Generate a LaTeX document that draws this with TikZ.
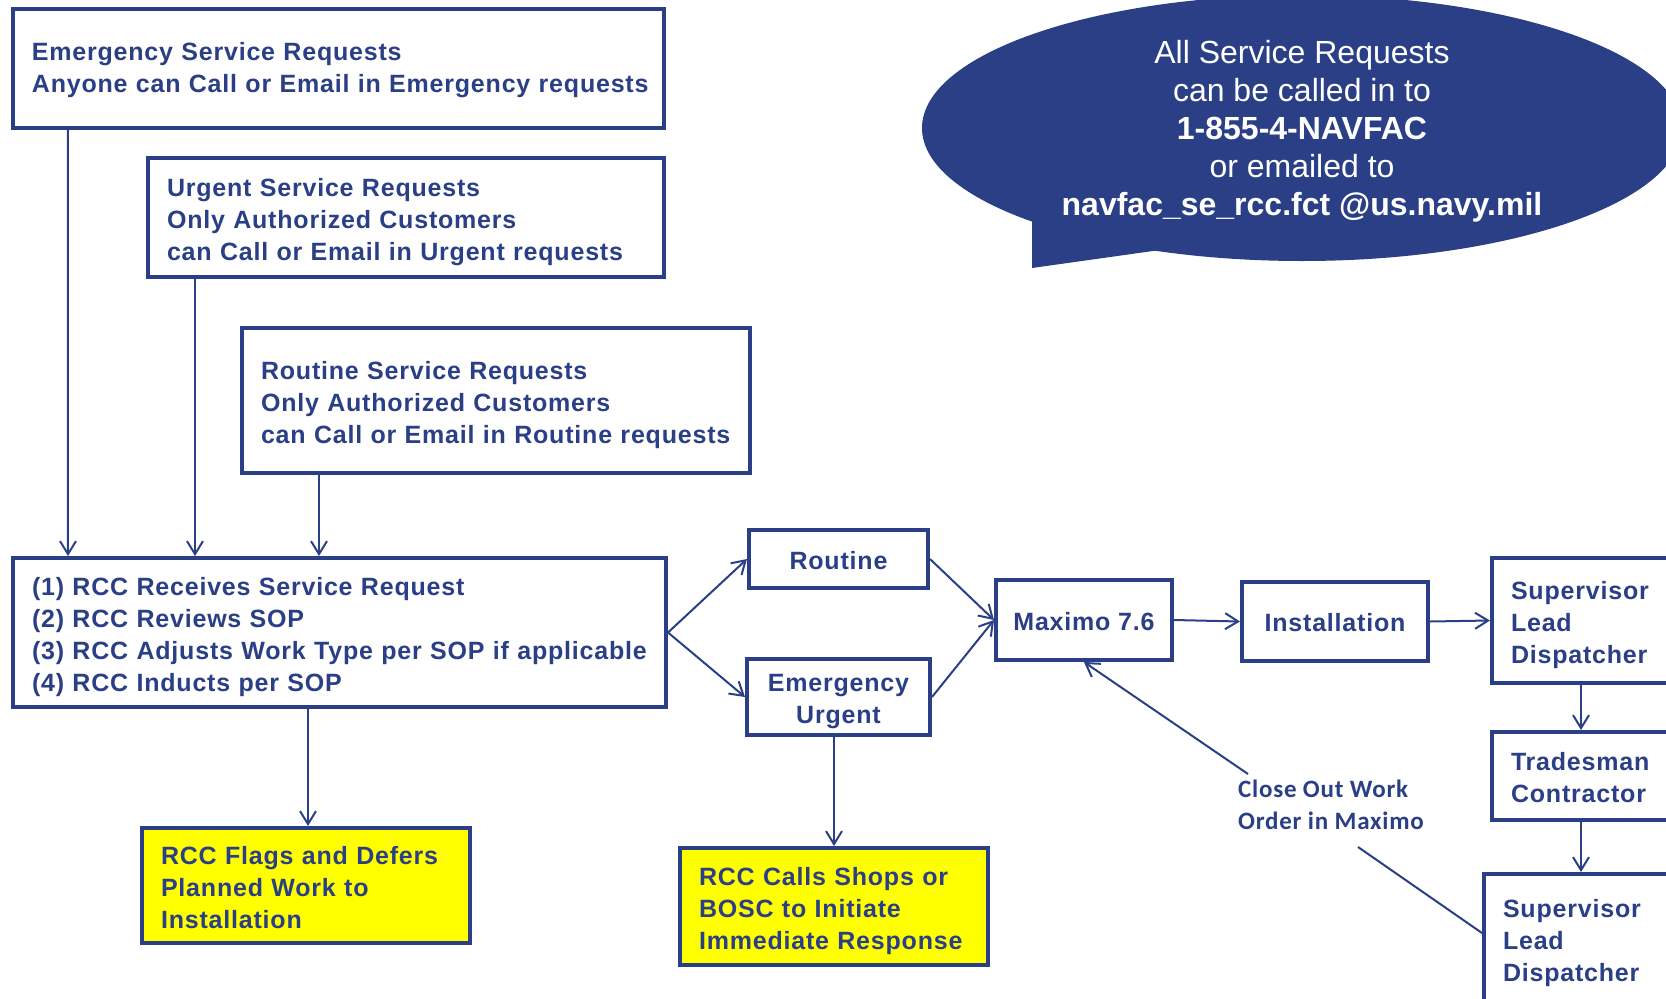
\documentclass[tikz,border=0pt]{standalone}
\usepackage{fontspec}
\setmainfont{Liberation Sans}
\newfontfamily\bxfont[LetterSpace=3.2]{Liberation Sans}
\newfontfamily\cbfont[LetterSpace=3]{Carlito}
\usetikzlibrary{arrows.meta}
\definecolor{navy}{RGB}{42,63,133}
\definecolor{ylw}{RGB}{255,255,0}
\newcommand\mylines[2][8.5pt]{\begin{tabular}{@{}l@{}}\rule{0pt}{\dimexpr22.4pt+#1\relax}#2\end{tabular}}
\tikzset{
  box/.style={draw=navy, line width=4pt, text=navy, fill=white,
    font=\bxfont\bfseries\fontsize{25}{32}\selectfont,
    inner xsep=19pt, inner ysep=0pt, align=left},
  cbox/.style={box, align=center, inner xsep=0pt},
  ybox/.style={box, fill=ylw},
  conn/.style={draw=navy, line width=2pt},
  arr/.style={conn, -{Straight Barb[length=13pt,width=16pt]}},
  bubtext/.style={text=white, font=\fontsize{32}{38}\selectfont, align=center},
  closelbl/.style={text=navy, font=\cbfont\bfseries\fontsize{25}{32}\selectfont, inner sep=0pt, align=left}
}
\begin{document}
\begin{tikzpicture}[x=1pt,y=-1pt]
\useasboundingbox (0,0) rectangle (1666,999);
\clip (0,0) rectangle (1666,999);

% speech bubble
\fill[navy] (1302,128) ellipse [x radius=380pt, y radius=133pt];
\fill[navy] (1032,205) -- (1032,268) -- (1160,250) -- (1160,230) -- cycle;
\node[bubtext] (BT) at (1302,131) {All Service Requests\\can be called in to\\\textbf{1-855-4-NAVFAC}\\or emailed to\\\textbf{navfac\_se\_rcc.fct @us.navy.mil}};

% boxes
\node[box, minimum width=651pt, minimum height=119pt, text width=613pt] (E) at (338.4,68)
  {\mylines[4pt]{Emergency Service Requests\\Anyone can Call or Email in Emergency requests}};
\node[box, minimum width=516pt, minimum height=119pt, text width=478pt] (U) at (406,217.5)
  {\mylines{Urgent Service Requests\\Only Authorized Customers\\can Call or Email in Urgent requests}};
\node[box, minimum width=508pt, minimum height=145pt, text width=470pt] (R) at (496,400.5)
  {\mylines{Routine Service Requests\\Only Authorized Customers\\can Call or Email in Routine requests}};
\node[box, minimum width=653pt, minimum height=149pt, text width=615pt] (RCC) at (339.5,632.5)
  {\mylines{(1) RCC Receives Service Request\\(2) RCC Reviews SOP\\(3) RCC Adjusts Work Type per SOP if applicable\\(4) RCC Inducts per SOP}};
\node[cbox, minimum width=179pt, minimum height=58pt] (Rt) at (838.5,559) {\rule{0pt}{22pt}Routine};
\node[cbox, minimum width=183pt, minimum height=76pt] (EU) at (838.5,697) {\rule{0pt}{26pt}Emergency\\Urgent};
\node[cbox, minimum width=176pt, minimum height=80pt] (Max) at (1084,620) {\rule{0pt}{22pt}Maximo 7.6};
\node[cbox, minimum width=186pt, minimum height=79pt] (Inst) at (1335,621.5) {\rule{0pt}{20pt}Installation};
\node[box, minimum width=260pt, minimum height=125pt, text width=222pt] (S1) at (1622,620.5)
  {\mylines{Supervisor\\Lead\\Dispatcher}};
\node[box, minimum width=260pt, minimum height=88pt, text width=222pt] (T) at (1622,776)
  {\mylines{Tradesman\\Contractor}};
\node[box, minimum width=260pt, minimum height=138pt, text width=222pt] (S2) at (1614,943)
  {\mylines[0pt]{Supervisor\\Lead\\Dispatcher}};
\node[ybox, minimum width=328pt, minimum height=115pt, text width=290pt] (Y1) at (306,885.5)
  {\mylines[10pt]{RCC Flags and Defers\\Planned Work to\\Installation}};
\node[ybox, minimum width=308pt, minimum height=117pt, text width=270pt] (Y2) at (834,906.5)
  {\mylines[10pt]{RCC Calls Shops or\\BOSC to Initiate\\Immediate Response}};

\node[closelbl, anchor=west] (CL) at (1238,807) {\mylines[0pt]{Close Out Work\\Order in Maximo}};
\coordinate (c1) at (1358,847);
\coordinate (c2) at (1248,774);

% connectors
\draw[arr] ([xshift=57pt]E.south west) -- ([xshift=57pt]RCC.north west);
\draw[arr] ([xshift=49pt]U.south west) -- ([xshift=184pt]RCC.north west);
\draw[arr] ([xshift=79pt]R.south west) -- ([xshift=308pt]RCC.north west);
\draw[arr] ([xshift=2pt]Y1.north |- RCC.south) -- ([xshift=2pt]Y1.north);
\draw[arr] (Y2.north |- EU.south) -- (Y2.north);
\draw[arr] (RCC.east) -- (Rt.west);
\draw[arr] (RCC.east) -- (EU.west);
\draw[arr] (Rt.east) -- (Max.west);
\draw[arr] (EU.east) -- (Max.west);
\draw[arr] (Max.east) -- (Inst.west);
\draw[arr] (Inst.east) -- (S1.west);
\draw[arr] ([xshift=91pt]S1.south west) -- ([xshift=91pt]T.north west);
\draw[arr] ([xshift=91pt]T.south west) -- ([xshift=99pt]S2.north west);
\draw[conn] ([yshift=-61pt]S2.north west) -- (c1);
\draw[arr] (c2) -- ([xshift=90pt]Max.south west);
\end{tikzpicture}
\end{document}
